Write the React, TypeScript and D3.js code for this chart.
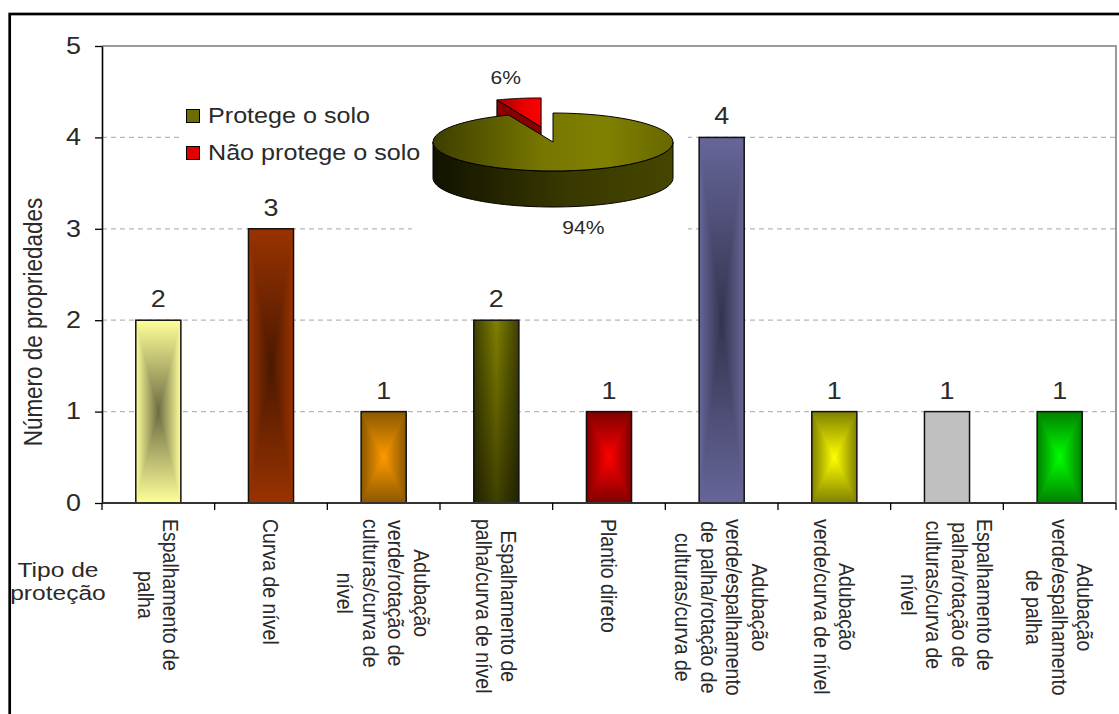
import React, { useEffect, useRef } from 'react';
import * as d3 from 'd3';

// bar chart data
const categories: string[][] = [
  ['Espalhamento de', 'palha'],
  ['Curva de nível'],
  ['Adubação', 'verde/rotação de', 'culturas/curva de', 'nível'],
  ['Espalhamento de', 'palha/curva de nível'],
  ['Plantio direto'],
  ['Adubação', 'verde/espalhamento', 'de palha/rotação de', 'culturas/curva de'],
  ['Adubação', 'verde/curva de nível'],
  ['Espalhamento de', 'palha/rotação de', 'culturas/curva de', 'nível'],
  ['Adubação', 'verde/espalhamento', 'de palha'],
];
const values = [2, 3, 1, 2, 1, 4, 1, 1, 1];
const yTicks = [0, 1, 2, 3, 4, 5];
const edgeColors = ['#ffff99', '#993300', '#8a5800', '#404000', '#800000', '#666699', '#808000', '#c0c0c0', '#008000'];
const centerColors = ['#6c6c44', '#4a1800', '#ff9900', '#808000', '#ff0000', '#33334f', '#ffff00', '#c0c0c0', '#00ff00'];

// inset pie data
const pieNames = ['Protege o solo', 'Não protege o solo'];
const pieValues = [94, 6];
const pieLabels = ['94%', '6%'];

const W = 1119;
const H = 714;
const SX = 1.17; // the picture's text is slightly wider than tall
const FONT = '"Liberation Sans", Arial, sans-serif';
const INK = '#2a2a2a';

const App: React.FC = () => {
  const svgRef = useRef<SVGSVGElement | null>(null);

  useEffect(() => {
    if (!svgRef.current) return;
    const svg = d3.select(svgRef.current);
    svg.selectAll('*').remove();

    const left = 102, right = 1116, top = 46, bottom = 503;

    const x = d3.scaleBand<number>()
      .domain(d3.range(categories.length))
      .range([left, right])
      .paddingInner(0.6)
      .paddingOuter(0.3);
    const y = d3.scaleLinear().domain([0, 5]).range([bottom, top]);
    const bw = x.bandwidth();
    const gapHalf = (x.step() - bw) / 2;

    const txt = (g: any, s: string, tx: number, ty: number, size: number, anchor: string, rot = 0) =>
      g.append('text')
        .attr('transform', `translate(${tx},${ty}) scale(${SX},1)${rot ? ` rotate(${rot})` : ''}`)
        .attr('text-anchor', anchor)
        .attr('font-size', size)
        .attr('font-family', FONT)
        .attr('fill', INK)
        .text(s);

    const defs = svg.append('defs');

    // outer frame
    svg.append('rect')
      .attr('x', 9.7).attr('y', 14)
      .attr('width', 1300).attr('height', 900)
      .attr('fill', '#fff')
      .attr('stroke', '#000').attr('stroke-width', 2.7);

    // gridlines
    svg.append('g').selectAll('line')
      .data(yTicks.filter(t => t > 0 && t < 5))
      .enter().append('line')
      .attr('x1', left).attr('x2', right)
      .attr('y1', d => y(d)).attr('y2', d => y(d))
      .attr('stroke', '#b8b8b8').attr('stroke-width', 1.2)
      .attr('stroke-dasharray', '5,4');

    // plot border (top and right)
    svg.append('path')
      .attr('d', `M${left},${y(5)}H${right}V${y(0)}`)
      .attr('fill', 'none').attr('stroke', '#9a9a9a').attr('stroke-width', 2);

    // bar gradients ("from centre" box gradient)
    values.forEach((_, i) => {
      const e = edgeColors[i], c = centerColors[i];
      const h = defs.append('linearGradient').attr('id', `h${i}`)
        .attr('x1', 0).attr('y1', 0).attr('x2', 1).attr('y2', 0);
      h.append('stop').attr('offset', 0).attr('stop-color', e);
      h.append('stop').attr('offset', 0.5).attr('stop-color', c);
      h.append('stop').attr('offset', 1).attr('stop-color', e);
      const t = defs.append('linearGradient').attr('id', `t${i}`)
        .attr('x1', 0).attr('y1', 0).attr('x2', 0).attr('y2', 1);
      t.append('stop').attr('offset', 0).attr('stop-color', e);
      t.append('stop').attr('offset', 1).attr('stop-color', c);
      const b = defs.append('linearGradient').attr('id', `b${i}`)
        .attr('x1', 0).attr('y1', 1).attr('x2', 0).attr('y2', 0);
      b.append('stop').attr('offset', 0).attr('stop-color', e);
      b.append('stop').attr('offset', 1).attr('stop-color', c);
    });
    // olive bar darkens toward its base
    const shade = defs.append('linearGradient').attr('id', 'shade')
      .attr('x1', 0).attr('y1', 0).attr('x2', 0).attr('y2', 1);
    shade.append('stop').attr('offset', 0).attr('stop-color', '#000').attr('stop-opacity', 0);
    shade.append('stop').attr('offset', 1).attr('stop-color', '#000').attr('stop-opacity', 0.5);

    // bars
    const bars = svg.append('g');
    values.forEach((v, i) => {
      const x0 = x(i) as number, x1 = x0 + bw;
      const y0 = y(v), y1 = y(0);
      const cxm = x0 + bw / 2, cym = (y0 + y1) / 2;
      const g = bars.append('g');
      g.append('rect').attr('x', x0).attr('y', y0).attr('width', bw).attr('height', y1 - y0)
        .attr('fill', `url(#h${i})`);
      if (i === 3) {
        g.append('rect').attr('x', x0).attr('y', y0).attr('width', bw).attr('height', y1 - y0)
          .attr('fill', 'url(#shade)');
      } else {
        g.append('polygon').attr('points', `${x0},${y0} ${x1},${y0} ${cxm},${cym}`)
          .attr('fill', `url(#t${i})`);
        g.append('polygon').attr('points', `${x0},${y1} ${x1},${y1} ${cxm},${cym}`)
          .attr('fill', `url(#b${i})`);
      }
      g.append('rect').attr('x', x0).attr('y', y0).attr('width', bw).attr('height', y1 - y0)
        .attr('fill', 'none').attr('stroke', '#111').attr('stroke-width', 1.5);
      txt(g, String(v), cxm, y0 - 13, 23, 'middle');
    });

    // y axis
    const yAxis = svg.append('g')
      .attr('transform', `translate(${left},0)`)
      .call(d3.axisLeft(y).tickValues(yTicks).tickFormat(d3.format('d')).tickSize(7).tickSizeOuter(0).tickPadding(11));
    yAxis.select('.domain').attr('stroke', '#000').attr('stroke-width', 1.6);
    yAxis.selectAll('.tick line').attr('stroke', '#000').attr('stroke-width', 1.3);
    yAxis.selectAll('.tick text')
      .attr('font-size', 23).attr('font-family', FONT).attr('fill', INK)
      .attr('transform', `scale(${SX},1)`);

    // x axis
    const xg = svg.append('g');
    xg.append('line').attr('x1', left).attr('x2', right).attr('y1', bottom).attr('y2', bottom)
      .attr('stroke', '#333').attr('stroke-width', 1.8);
    xg.selectAll('.xt')
      .data(d3.range(categories.length + 1))
      .enter().append('line')
      .attr('class', 'xt')
      .attr('x1', d => (d < categories.length ? (x(d) as number) - gapHalf : (x(d - 1) as number) + bw + gapHalf))
      .attr('x2', d => (d < categories.length ? (x(d) as number) - gapHalf : (x(d - 1) as number) + bw + gapHalf))
      .attr('y1', bottom).attr('y2', bottom + 7)
      .attr('stroke', '#000').attr('stroke-width', 1.3);

    // category labels, rotated, lines centred and block top-aligned
    const fs = 19.5, lh = 25.5;
    categories.forEach((lines, i) => {
      const cxm = (x(i) as number) + bw / 2;
      const n = lines.length;
      const nodes = lines.map((s, j) => {
        const bx = cxm + ((n - 1) / 2 - j) * lh - 0.35 * fs * SX;
        return { t: txt(xg, s, bx, 0, fs, 'middle', 90), bx };
      });
      const L = d3.max(nodes, d => (d.t.node() as SVGTextElement).getComputedTextLength()) || 0;
      const yc = 519 + L / 2;
      nodes.forEach(d => d.t.attr('transform', `translate(${d.bx},${yc}) scale(${SX},1) rotate(90)`));
    });

    // axis titles
    txt(svg, 'Número de propriedades', 42, 322, 22.5, 'middle', -90);
    txt(svg, 'Tipo de', 58, 577, 21, 'middle');
    txt(svg, 'proteção', 58, 600, 21, 'middle');

    // ---- inset 3D pie ----
    svg.append('rect').attr('x', 412).attr('y', 60).attr('width', 276).attr('height', 180).attr('fill', '#fff');
    const pcx = 553, pcy = 142, rx = 120, ry = 29, depth = 36, explode = 0.53;
    const proj = (a: number, k = 1): [number, number] => [pcx + rx * k * Math.sin(a), pcy - ry * k * Math.cos(a)];
    const arcPts = (a0: number, a1: number, dy = 0, ox = 0, oy = 0) =>
      d3.range(0, 61).map(j => {
        const a = a0 + (a1 - a0) * j / 60;
        const p = proj(a);
        return [p[0] + ox, p[1] + dy + oy] as [number, number];
      });
    const line = d3.line();
    const slices = d3.pie<number>().sort(null)(pieValues);

    const og = defs.append('linearGradient').attr('id', 'oliveTop')
      .attr('gradientUnits', 'userSpaceOnUse').attr('x1', pcx - rx).attr('x2', pcx + rx).attr('y1', 0).attr('y2', 0);
    og.append('stop').attr('offset', 0).attr('stop-color', '#3e3e00');
    og.append('stop').attr('offset', 0.45).attr('stop-color', '#767600');
    og.append('stop').attr('offset', 0.72).attr('stop-color', '#808000');
    og.append('stop').attr('offset', 1).attr('stop-color', '#676700');
    const os = defs.append('linearGradient').attr('id', 'oliveSide')
      .attr('gradientUnits', 'userSpaceOnUse').attr('x1', pcx - rx).attr('x2', pcx + rx).attr('y1', 0).attr('y2', 0);
    os.append('stop').attr('offset', 0).attr('stop-color', '#121200');
    os.append('stop').attr('offset', 0.55).attr('stop-color', '#383800');
    os.append('stop').attr('offset', 1).attr('stop-color', '#464600');
    const rt = defs.append('linearGradient').attr('id', 'redTop')
      .attr('x1', 0).attr('x2', 1).attr('y1', 0).attr('y2', 0);
    rt.append('stop').attr('offset', 0).attr('stop-color', '#a00000');
    rt.append('stop').attr('offset', 0.6).attr('stop-color', '#e80000');
    rt.append('stop').attr('offset', 1).attr('stop-color', '#ff0000');

    const pg = svg.append('g').attr('stroke', '#000').attr('stroke-width', 1).attr('stroke-linejoin', 'round');

    // exploded small slice (at the back)
    const red = slices[1];
    const rmid = (red.startAngle + red.endAngle) / 2;
    const ox = rx * explode * Math.sin(rmid), oy = -ry * explode * Math.cos(rmid);
    const pa = proj(red.startAngle);
    pg.append('path')
      .attr('d', line([[pcx + ox, pcy + oy], [pa[0] + ox, pa[1] + oy], [pa[0] + ox, pa[1] + oy + depth], [pcx + ox, pcy + oy + depth]]) + 'Z')
      .attr('fill', '#8a0000');
    pg.append('path')
      .attr('d', line([[pcx + ox, pcy + oy], ...arcPts(red.startAngle, red.endAngle, 0, ox, oy)]) + 'Z')
      .attr('fill', 'url(#redTop)');

    // big slice
    const olive = slices[0];
    pg.append('path')
      .attr('d', line([...arcPts(Math.PI / 2, Math.PI * 1.5), ...arcPts(Math.PI * 1.5, Math.PI / 2, depth)]) + 'Z')
      .attr('fill', 'url(#oliveSide)');
    pg.append('path')
      .attr('d', line([[pcx, pcy], ...arcPts(olive.startAngle, olive.endAngle)]) + 'Z')
      .attr('fill', 'url(#oliveTop)');

    // pie labels
    slices.forEach((s, i) => {
      const mid = (s.startAngle + s.endAngle) / 2;
      const p = proj(mid, 1.35);
      const front = Math.cos(mid) < 0;
      const e = i === 1 ? explode : 0;
      const lx = p[0] + rx * e * Math.sin(mid) - (front ? 0 : 5);
      const ly = p[1] - ry * e * Math.cos(mid) + (front ? depth + 12 : -10);
      txt(svg, pieLabels[i], lx, ly + 6, 18, 'middle');
    });

    // legend
    const lg = svg.append('g');
    lg.append('rect').attr('x', 180).attr('y', 98).attr('width', 248).attr('height', 72).attr('fill', '#fff');
    const legendFill = ['#6e6e00', '#e00000'];
    pieNames.forEach((name, i) => {
      const base = 123 + i * 37;
      lg.append('rect').attr('x', 186.5).attr('y', base - 13.5).attr('width', 13).attr('height', 13)
        .attr('fill', legendFill[i]).attr('stroke', '#000').attr('stroke-width', 1);
      txt(lg, name, 208, base, 21.5, 'start');
    });
  }, []);

  return (
    <svg
      ref={svgRef}
      width={W}
      height={H}
      style={{ position: 'absolute', left: 0, top: 0, background: '#fff' }}
    />
  );
};

export default App;
